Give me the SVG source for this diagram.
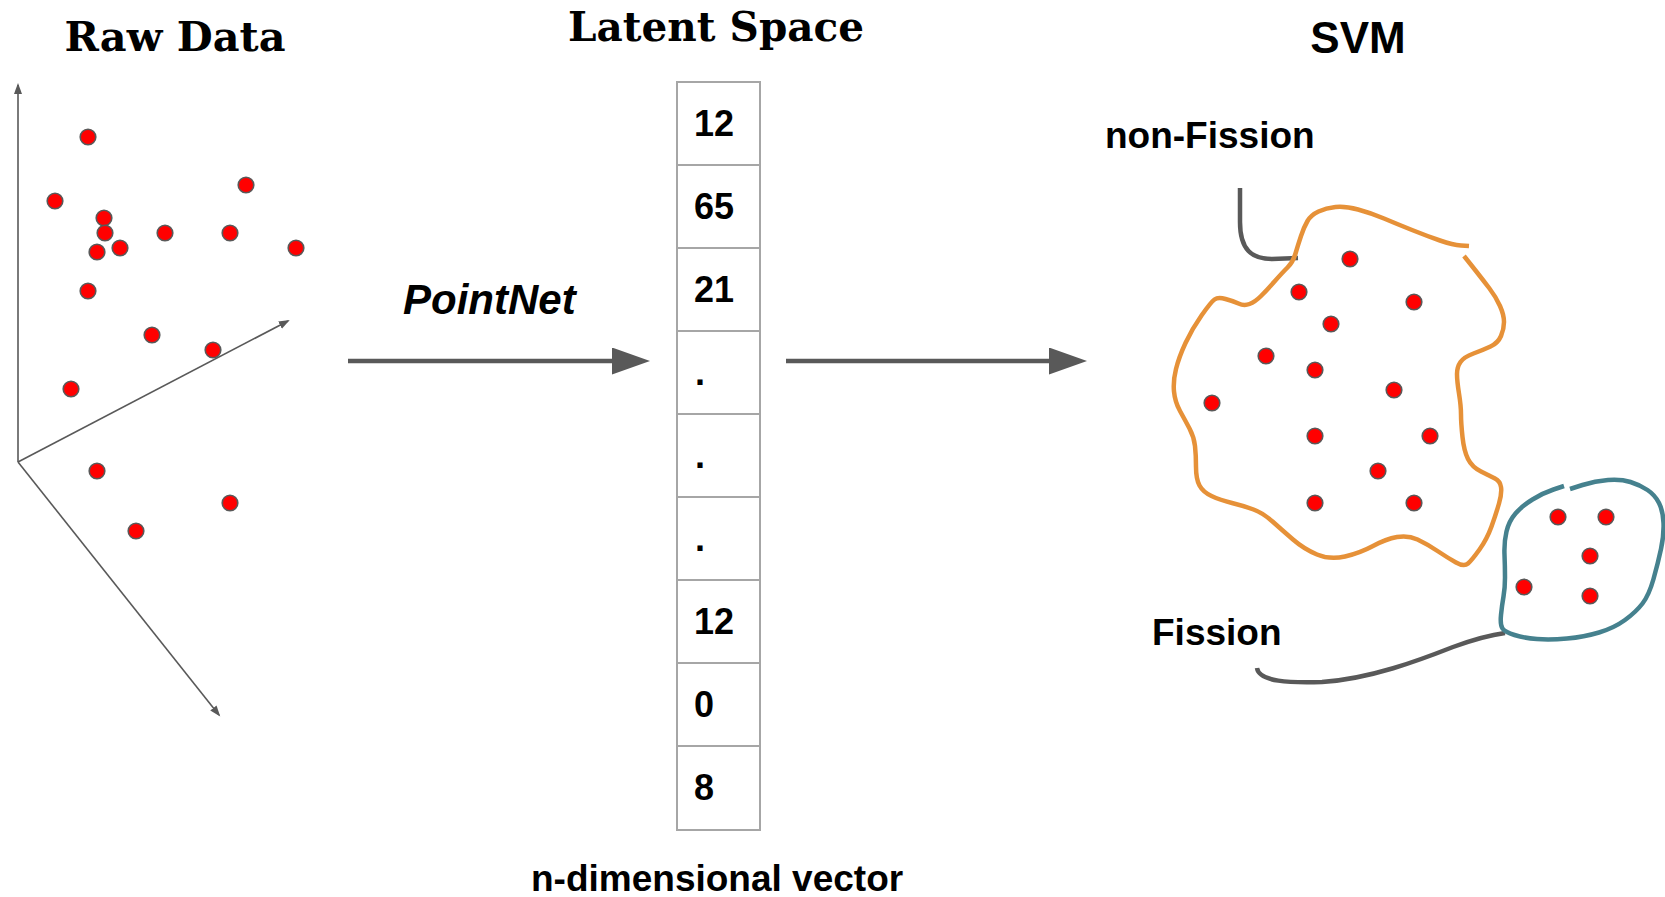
<svg xmlns="http://www.w3.org/2000/svg" width="1665" height="897" viewBox="0 0 1665 897">
  <style>
    .title { font-family: "DejaVu Serif", "Liberation Serif", serif; font-weight: bold; font-size: 41px; fill: #000; }
    .label { font-family: "Liberation Sans", Arial, sans-serif; font-weight: bold; font-size: 37px; fill: #000; }
    .num { font-family: "Liberation Sans", Arial, sans-serif; font-weight: bold; font-size: 36px; fill: #000; }
    .dot { fill: #ff0000; stroke: #595959; stroke-width: 1.6; }
    .axis { stroke: #595959; stroke-width: 1.6; fill: none; }
    .flow { stroke: #595959; stroke-width: 4.5; fill: none; }
    .cell { fill: #ffffff; stroke: #a6a6a6; stroke-width: 2; }
    .leader { stroke: #595959; stroke-width: 4.5; fill: none; }
    .blob-a { stroke: #e69138; stroke-width: 4.5; fill: none; }
    .blob-b { stroke: #45818e; stroke-width: 4.5; fill: none; }
  </style>
  <defs>
    <marker id="arrow-small" markerUnits="userSpaceOnUse" markerWidth="12" markerHeight="10" refX="9" refY="4" orient="auto">
      <path d="M0,0 L11,4 L0,8 z" fill="#595959"/>
    </marker>
    <marker id="arrow-big" markerUnits="userSpaceOnUse" markerWidth="40" markerHeight="28" refX="18" refY="13.5" orient="auto">
      <path d="M0,0 L38,13.5 L0,27 z" fill="#595959"/>
    </marker>
  </defs>

  <rect width="1665" height="897" fill="#ffffff"/>

  <!-- Titles -->
  <text class="title" x="175" y="51" text-anchor="middle" textLength="221" lengthAdjust="spacingAndGlyphs">Raw Data</text>
  <text class="title" x="716" y="41" text-anchor="middle" textLength="296" lengthAdjust="spacingAndGlyphs">Latent Space</text>
  <text class="label" x="1358" y="53" text-anchor="middle" style="font-size:44px">SVM</text>

  <!-- Raw data: 3D axes and point cloud -->
  <g id="raw-data">
    <line class="axis" x1="18" y1="462" x2="18" y2="85" marker-end="url(#arrow-small)"/>
    <line class="axis" x1="18" y1="462" x2="288" y2="321" marker-end="url(#arrow-small)"/>
    <line class="axis" x1="18" y1="462" x2="219" y2="715" marker-end="url(#arrow-small)"/>
    <circle class="dot" cx="88" cy="137" r="7.8"/>
    <circle class="dot" cx="55" cy="201" r="7.8"/>
    <circle class="dot" cx="104" cy="218" r="7.8"/>
    <circle class="dot" cx="105" cy="233" r="7.8"/>
    <circle class="dot" cx="97" cy="252" r="7.8"/>
    <circle class="dot" cx="120" cy="248" r="7.8"/>
    <circle class="dot" cx="165" cy="233" r="7.8"/>
    <circle class="dot" cx="230" cy="233" r="7.8"/>
    <circle class="dot" cx="246" cy="185" r="7.8"/>
    <circle class="dot" cx="296" cy="248" r="7.8"/>
    <circle class="dot" cx="88" cy="291" r="7.8"/>
    <circle class="dot" cx="152" cy="335" r="7.8"/>
    <circle class="dot" cx="213" cy="350" r="7.8"/>
    <circle class="dot" cx="71" cy="389" r="7.8"/>
    <circle class="dot" cx="97" cy="471" r="7.8"/>
    <circle class="dot" cx="230" cy="503" r="7.8"/>
    <circle class="dot" cx="136" cy="531" r="7.8"/>
  </g>

  <!-- Latent vector -->
  <g id="latent-vector">
    <rect class="cell" x="677" y="82" width="83" height="83"/>
    <rect class="cell" x="677" y="165" width="83" height="83"/>
    <rect class="cell" x="677" y="248" width="83" height="83"/>
    <rect class="cell" x="677" y="331" width="83" height="83"/>
    <rect class="cell" x="677" y="414" width="83" height="83"/>
    <rect class="cell" x="677" y="497" width="83" height="83"/>
    <rect class="cell" x="677" y="580" width="83" height="83"/>
    <rect class="cell" x="677" y="663" width="83" height="83"/>
    <rect class="cell" x="677" y="746" width="83" height="84"/>
    <text class="num" x="694" y="136">12</text>
    <text class="num" x="694" y="219">65</text>
    <text class="num" x="694" y="302">21</text>
    <text class="num" x="695" y="385">.</text>
    <text class="num" x="695" y="468">.</text>
    <text class="num" x="695" y="551">.</text>
    <text class="num" x="694" y="634">12</text>
    <text class="num" x="694" y="717">0</text>
    <text class="num" x="694" y="800">8</text>
    <text class="label" x="531" y="891">n-dimensional vector</text>
  </g>

  <!-- Connectors -->
  <g id="connectors">
    <line class="flow" x1="348" y1="361" x2="630" y2="361" marker-end="url(#arrow-big)"/>
    <text class="label" x="403" y="314" style="font-style:italic;font-size:42px">PointNet</text>
    <line class="flow" x1="786" y1="361" x2="1067" y2="361" marker-end="url(#arrow-big)"/>
  </g>

  <!-- SVM: non-Fission cluster -->
  <g id="non-fission">
    <text class="label" x="1105" y="148">non-Fission</text>
    <path class="leader" d="M1240,188 L1240,222 C1240,250 1252,259 1272,259 L1298,258"/>
    <path class="blob-a" d="M1469,246 L1461,245.5 Q1453,245 1440,240.5 Q1427,236 1412,230 Q1397,224 1384,218.5 Q1371,213 1358,209.5 Q1345,206 1335.5,207 Q1326,208 1318.5,211.5 Q1311,215 1307.5,221 Q1304,227 1301,236 Q1298,245 1295.5,253.5 Q1293,262 1287.5,267.5 Q1282,273 1274.5,281.5 Q1267,290 1261,296 Q1255,302 1249.5,304 Q1244,306 1238.5,303.5 Q1233,301 1225.5,299 Q1218,297 1214.5,299.5 Q1211,302 1201.5,315.5 Q1192,329 1185.5,343 Q1179,357 1176,369 Q1173,381 1174,391.5 Q1175,402 1180,411 Q1185,420 1189.5,428.5 Q1194,437 1195,446 Q1196,455 1196,467 Q1196,479 1199.5,485.5 Q1203,492 1211.5,496 Q1220,500 1232,503 Q1244,506 1253.5,509.5 Q1263,513 1272.5,521.5 Q1282,530 1293,539.5 Q1304,549 1317,554.5 Q1330,560 1345,556.5 Q1360,553 1373,546 Q1386,539 1397,537 Q1408,535 1417.5,539.5 Q1427,544 1437.5,551 Q1448,558 1456,562.5 Q1464,567 1468,563.5 Q1472,560 1479.5,549.5 Q1487,539 1491.5,526.5 Q1496,514 1499,503.5 Q1502,493 1501,487 Q1500,481 1495,478.5 Q1490,476 1481,471.5 Q1472,467 1468,459 Q1464,451 1462.5,437 Q1461,423 1461,414.5 Q1461,406 1459,393.5 Q1457,381 1457,374 Q1457,367 1460.5,362 Q1464,357 1473.5,353.5 Q1483,350 1490.5,346.5 Q1498,343 1501,336 Q1504,329 1504,322 Q1504,315 1500,306 Q1496,297 1489.5,288.5 Q1483,280 1477.5,273 Q1472,266 1468,261 L1464,256"/>
    <circle class="dot" cx="1350" cy="259" r="7.8"/>
    <circle class="dot" cx="1299" cy="292" r="7.8"/>
    <circle class="dot" cx="1414" cy="302" r="7.8"/>
    <circle class="dot" cx="1331" cy="324" r="7.8"/>
    <circle class="dot" cx="1266" cy="356" r="7.8"/>
    <circle class="dot" cx="1315" cy="370" r="7.8"/>
    <circle class="dot" cx="1394" cy="390" r="7.8"/>
    <circle class="dot" cx="1212" cy="403" r="7.8"/>
    <circle class="dot" cx="1315" cy="436" r="7.8"/>
    <circle class="dot" cx="1430" cy="436" r="7.8"/>
    <circle class="dot" cx="1378" cy="471" r="7.8"/>
    <circle class="dot" cx="1315" cy="503" r="7.8"/>
    <circle class="dot" cx="1414" cy="503" r="7.8"/>
  </g>

  <!-- SVM: Fission cluster -->
  <g id="fission">
    <text class="label" x="1152" y="645">Fission</text>
    <path class="leader" d="M1257,668 C1259,682 1290,683 1322,682 C1370,679 1420,660 1453,647 C1475,639 1490,635 1505,633"/>
    <path class="blob-b" d="M1570,489 L1582.5,485 Q1595,481 1608,480 Q1621,479 1630.5,482 Q1640,485 1647.5,490 Q1655,495 1659,503 Q1663,511 1663.5,523 Q1664,535 1661,549 Q1658,563 1653.5,579 Q1649,595 1642.5,603.5 Q1636,612 1625,620 Q1614,628 1599,632.5 Q1584,637 1567,638.5 Q1550,640 1537,639 Q1524,638 1514.5,635 Q1505,632 1502.5,628.5 Q1500,625 1501,615 Q1502,605 1503.5,596.5 Q1505,588 1505,577.5 Q1505,567 1504.5,554.5 Q1504,542 1506.5,531.5 Q1509,521 1515.5,513.5 Q1522,506 1532.5,499.5 Q1543,493 1553.5,489.5 L1564,486"/>
    <circle class="dot" cx="1558" cy="517" r="7.8"/>
    <circle class="dot" cx="1606" cy="517" r="7.8"/>
    <circle class="dot" cx="1590" cy="556" r="7.8"/>
    <circle class="dot" cx="1524" cy="587" r="7.8"/>
    <circle class="dot" cx="1590" cy="596" r="7.8"/>
  </g>
</svg>
